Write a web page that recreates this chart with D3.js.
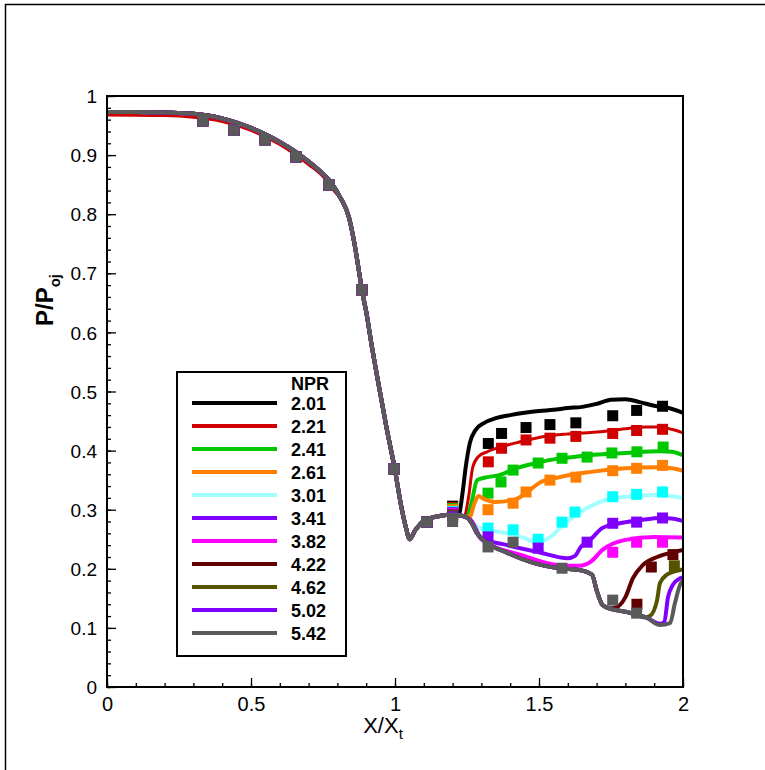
<!DOCTYPE html>
<html><head><meta charset="utf-8">
<script src="https://cdn.jsdelivr.net/npm/d3@7"></script>
<style>body{margin:0;background:#fff}svg{display:block}</style>
</head><body><svg id="c" width="765" height="770"></svg>
<script>
// ---------------- data ----------------
const npr = ["2.01","2.21","2.41","2.61","3.01","3.41","3.82","4.22","4.62","5.02","5.42"];
const lineColors = ["#000000","#d00000","#00c800","#ff8000","#a0ffff","#8000ff","#ff00ff","#600000","#555500","#8000ff","#5a5a5a"];
const markColors = ["#000000","#d00000","#00c800","#ff8000","#00ffff","#8000ff","#ff00ff","#600000","#555500","#8000ff","#5a5a5a"];

// shared upstream computed curve (all NPR collapse)
const upX = [0,0.1,0.2,0.3,0.35,0.4,0.45,0.5,0.55,0.6,0.65,0.7,0.75,0.78,0.81,0.84,0.86,0.875,0.885,0.9,0.92,0.94,0.97,1.0,1.02,1.04,1.05,1.07,1.1,1.15,1.2];
const upY = [0.973,0.973,0.972,0.970,0.967,0.962,0.955,0.946,0.935,0.922,0.907,0.889,0.868,0.852,0.828,0.795,0.748,0.703,0.672,0.635,0.575,0.52,0.44,0.367,0.31,0.266,0.25,0.265,0.281,0.289,0.292];
// red curve sits slightly below upstream
const redUpX = [0,0.2,0.3,0.4,0.5,0.6,0.7,0.75,0.8];
const redUpY = [0.968,0.967,0.964,0.957,0.942,0.918,0.884,0.864,0.833];

// downstream computed curves (x, y) per NPR
const dsX = [
 [1.2,1.22,1.235,1.245,1.26,1.28,1.31,1.35,1.4,1.45,1.5,1.55,1.6,1.65,1.7,1.75,1.8,1.85,1.9,1.95,2.0],
 [1.2,1.24,1.255,1.27,1.29,1.32,1.365,1.42,1.46,1.55,1.6,1.69,1.8,1.87,1.92,1.96,2.0],
 [1.2,1.25,1.265,1.285,1.31,1.365,1.42,1.49,1.56,1.62,1.69,1.8,1.92,1.96,2.0],
 [1.2,1.26,1.275,1.29,1.31,1.35,1.42,1.46,1.5,1.57,1.68,1.8,1.91,1.96,2.0],
 [1.2,1.26,1.29,1.39,1.45,1.49,1.54,1.58,1.62,1.71,1.8,1.91,2.0],
 [1.2,1.26,1.3,1.39,1.5,1.6,1.625,1.645,1.68,1.72,1.78,1.86,1.92,1.96,2.0],
 [1.2,1.26,1.3,1.44,1.57,1.64,1.68,1.72,1.8,1.9,2.0],
 [1.2,1.24,1.267,1.285,1.306,1.39,1.48,1.57,1.64,1.684,1.70,1.72,1.745,1.765,1.8,1.826,1.86,1.91,1.965,2.0],
 [1.2,1.24,1.267,1.285,1.306,1.39,1.48,1.57,1.64,1.684,1.70,1.72,1.74,1.805,1.87,1.885,1.91,1.92,1.944,1.99,2.0],
 [1.2,1.24,1.267,1.285,1.306,1.39,1.48,1.57,1.64,1.684,1.70,1.72,1.74,1.805,1.875,1.92,1.935,1.948,1.965,1.99,2.0],
 [1.2,1.24,1.267,1.285,1.306,1.39,1.48,1.57,1.64,1.684,1.70,1.72,1.74,1.805,1.875,1.92,1.955,1.972,1.99,2.0]
];
const dsY = [
 [0.292,0.290,0.33,0.37,0.413,0.435,0.447,0.455,0.460,0.464,0.467,0.469,0.472,0.474,0.479,0.486,0.487,0.482,0.476,0.472,0.464],
 [0.292,0.288,0.32,0.372,0.39,0.398,0.406,0.413,0.418,0.426,0.428,0.431,0.437,0.440,0.440,0.436,0.430],
 [0.292,0.288,0.31,0.35,0.354,0.359,0.37,0.379,0.386,0.389,0.393,0.396,0.399,0.398,0.392],
 [0.292,0.288,0.31,0.323,0.318,0.313,0.318,0.33,0.345,0.355,0.364,0.37,0.372,0.37,0.366],
 [0.292,0.284,0.27,0.26,0.252,0.245,0.254,0.272,0.288,0.313,0.322,0.325,0.32],
 [0.292,0.284,0.252,0.24,0.228,0.218,0.222,0.237,0.25,0.269,0.277,0.283,0.286,0.285,0.281],
 [0.292,0.284,0.25,0.223,0.206,0.205,0.212,0.232,0.249,0.254,0.253],
 [0.292,0.289,0.277,0.26,0.249,0.227,0.21,0.201,0.198,0.19,0.164,0.139,0.133,0.134,0.152,0.184,0.206,0.22,0.228,0.232],
 [0.292,0.289,0.277,0.26,0.249,0.227,0.21,0.201,0.198,0.19,0.164,0.139,0.134,0.127,0.118,0.12,0.147,0.176,0.19,0.198,0.199],
 [0.292,0.289,0.277,0.26,0.249,0.227,0.21,0.201,0.198,0.19,0.164,0.139,0.134,0.127,0.117,0.107,0.11,0.152,0.173,0.184,0.186],
 [0.292,0.289,0.277,0.26,0.249,0.227,0.21,0.201,0.198,0.19,0.164,0.139,0.134,0.127,0.117,0.105,0.108,0.142,0.173,0.18]
];

// experimental points, upstream (shared)
const expUpX = [0.333,0.441,0.549,0.656,0.771,0.885,0.997,1.111];
const expUpY = [0.958,0.942,0.926,0.897,0.849,0.672,0.369,0.279];
// experimental points at x = 1.2 per NPR
const exp12Y = [0.306,0.304,0.302,0.300,0.297,0.295,0.293,0.291,0.290,0.288,0.280];
// downstream experimental points per NPR
const expX = [
 [1.324,1.370,1.455,1.538,1.628,1.756,1.839,1.929],
 [1.324,1.370,1.455,1.538,1.628,1.756,1.839,1.929],
 [1.323,1.368,1.410,1.497,1.580,1.667,1.753,1.840,1.931],
 [1.323,1.410,1.455,1.538,1.628,1.756,1.839,1.929],
 [1.323,1.410,1.497,1.580,1.625,1.756,1.839,1.929],
 [1.323,1.497,1.667,1.756,1.839,1.929],
 [1.756,1.839,1.929],
 [1.840,1.890,1.965],
 [1.970],
 [],
 [1.323,1.410,1.580,1.756,1.839]
];
const expY = [
 [0.412,0.429,0.439,0.444,0.447,0.459,0.468,0.475],
 [0.381,0.404,0.418,0.421,0.424,0.429,0.434,0.436],
 [0.328,0.347,0.367,0.379,0.387,0.389,0.396,0.398,0.406],
 [0.300,0.311,0.330,0.350,0.355,0.366,0.370,0.375],
 [0.269,0.266,0.250,0.279,0.296,0.322,0.326,0.330],
 [0.254,0.235,0.245,0.277,0.279,0.286],
 [0.228,0.245,0.245],
 [0.140,0.203,0.224],
 [0.205],
 [],
 [0.237,0.245,0.201,0.147,0.125]
];
const xMajor = [0,0.5,1,1.5,2];
const xMajorLabels = ["0","0.5","1","1.5","2"];
const yMajor = [0,0.1,0.2,0.3,0.4,0.5,0.6,0.7,0.8,0.9,1];
const yMajorLabels = ["0","0.1","0.2","0.3","0.4","0.5","0.6","0.7","0.8","0.9","1"];

// ---------------- drawing ----------------
const svg = d3.select("#c");
const x = d3.scaleLinear().domain([0,2]).range([107,683]);
const y = d3.scaleLinear().domain([0,1]).range([687,96]);

// outer frame
svg.append("rect").attr("x",5.5).attr("y",4.5).attr("width",900).attr("height",900)
  .attr("fill","none").attr("stroke","#000").attr("stroke-width",1.5);

const clip = svg.append("defs").append("clipPath").attr("id","pc");
clip.append("rect").attr("x",x(0)).attr("y",y(1)).attr("width",x(2)-x(0)).attr("height",y(0)-y(1));

// axes
const minorX = d3.range(0,2.0001,0.1).map(v=>+v.toFixed(2));
const minorY = d3.range(0,1.0001,0.02).map(v=>+v.toFixed(2));
const gxm = svg.append("g").attr("transform",`translate(0,${y(0)})`)
  .call(d3.axisBottom(x).tickValues(minorX).tickSize(-4).tickFormat(""));
const gx = svg.append("g").attr("transform",`translate(0,${y(0)})`)
  .call(d3.axisBottom(x).tickValues(xMajor).tickSize(-9).tickPadding(10).tickFormat((d,i)=>xMajorLabels[i]));
const gym = svg.append("g").attr("transform",`translate(${x(0)},0)`)
  .call(d3.axisLeft(y).tickValues(minorY).tickSize(-4).tickFormat(""));
const gy = svg.append("g").attr("transform",`translate(${x(0)},0)`)
  .call(d3.axisLeft(y).tickValues(yMajor).tickSize(-9).tickPadding(10).tickFormat((d,i)=>yMajorLabels[i]));
[gxm,gx,gym,gy].forEach(g=>{g.select(".domain").remove();g.selectAll("line").attr("stroke","#000").attr("stroke-width",1.3);});
gx.selectAll("text").attr("font-family","'Liberation Sans Narrow','Arial Narrow',sans-serif").attr("font-size",20).attr("fill","#000");
gy.selectAll("text").attr("font-family","'Liberation Sans',Arial,sans-serif").attr("font-size",19).attr("fill","#000").attr("dy","0.35em");

// data
const plot = svg.append("g").attr("clip-path","url(#pc)");
const line = d3.line().x(d=>x(d[0])).y(d=>y(d[1])).curve(d3.curveMonotoneX);
const upPts = d3.zip(upX,upY);
const ms = 11;
npr.forEach((n,i)=>{
  const pts = (i===1 ? d3.zip(redUpX,redUpY).concat(upPts.filter(p=>p[0]>0.8)) : upPts).concat(d3.zip(dsX[i],dsY[i]).slice(1));
  plot.append("path").datum(pts).attr("d",line).attr("fill","none")
    .attr("stroke",lineColors[i]).attr("stroke-width",i===1?3:4).attr("stroke-linejoin","round");
  const mk = d3.zip(expUpX,expUpY).concat([[1.2,exp12Y[i]]]).concat(d3.zip(expX[i],expY[i]));
  plot.selectAll(null).data(mk).enter().append("rect")
    .attr("x",d=>x(d[0])-ms/2).attr("y",d=>y(d[1])-ms/2).attr("width",ms).attr("height",ms)
    .attr("fill",markColors[i]);
});

// plot box
svg.append("rect").attr("x",x(0)).attr("y",y(1)).attr("width",x(2)-x(0)).attr("height",y(0)-y(1))
  .attr("fill","none").attr("stroke","#000").attr("stroke-width",2);

// axis titles
const xt = svg.append("text").attr("x",x(1)-12).attr("y",733).attr("text-anchor","middle")
  .attr("font-family","'Liberation Sans Narrow','Arial Narrow',sans-serif").attr("font-size",22).attr("fill","#000");
xt.append("tspan").text("X/X");
xt.append("tspan").attr("font-size",15).attr("dy",6).text("t");
const yt = svg.append("text").attr("transform","translate(53,300) rotate(-90)").attr("text-anchor","middle")
  .attr("font-family","'Liberation Sans',Arial,sans-serif").attr("font-weight","bold").attr("font-size",24).attr("fill","#000");
yt.append("tspan").text("P/P");
yt.append("tspan").attr("font-size",15).attr("dy",7).text("oj");

// legend
const lg = svg.append("g");
lg.append("rect").attr("x",177).attr("y",372).attr("width",169).attr("height",284)
  .attr("fill","#fff").attr("stroke","#000").attr("stroke-width",2);
lg.append("text").attr("x",291).attr("y",390).text("NPR")
  .attr("font-family","'Liberation Sans',Arial,sans-serif").attr("font-weight","bold").attr("font-size",18);
npr.forEach((n,i)=>{
  const yy = 403 + i*23;
  lg.append("line").attr("x1",192).attr("x2",277).attr("y1",yy).attr("y2",yy)
    .attr("stroke",lineColors[i]).attr("stroke-width",4);
  lg.append("text").attr("x",291).attr("y",yy+6.5).text(n)
    .attr("font-family","'Liberation Sans',Arial,sans-serif").attr("font-weight","bold").attr("font-size",18);
});
</script></body></html>
